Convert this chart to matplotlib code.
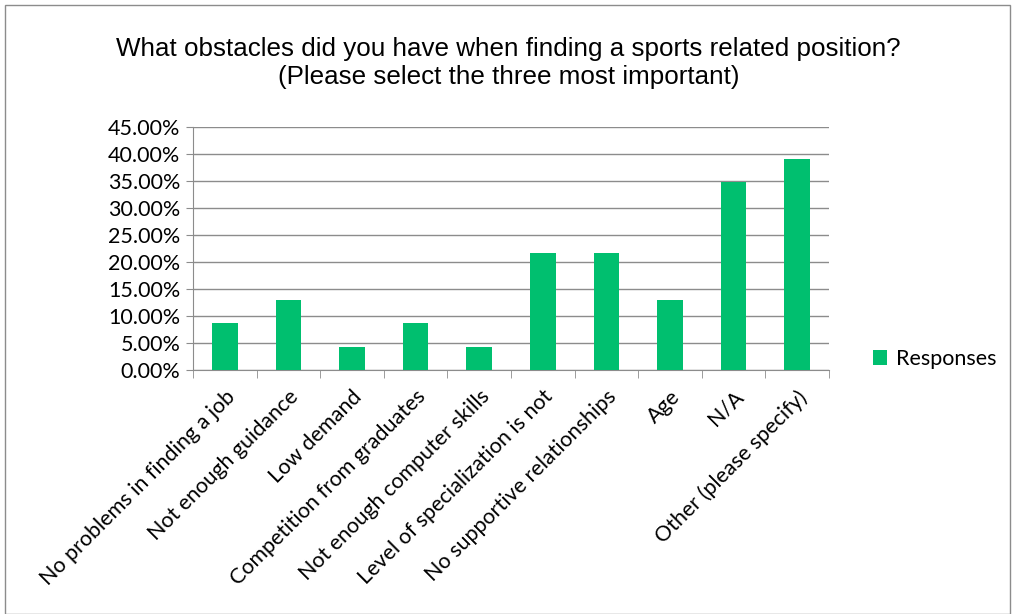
import matplotlib
matplotlib.use("Agg")
import matplotlib.pyplot as plt
from matplotlib.ticker import FixedLocator, FuncFormatter
from matplotlib.patches import Rectangle

categories = ["No problems in finding a job", "Not enough guidance", "Low demand",
              "Competition from graduates", "Not enough computer skills",
              "Level of specialization is not", "No supportive relationships",
              "Age", "N/A", "Other (please specify)"]
values = [8.70, 13.04, 4.35, 8.70, 4.35, 21.74, 21.74, 13.04, 34.78, 39.13]
series_name = "Responses"
yticks = [0, 5, 10, 15, 20, 25, 30, 35, 40, 45]
title = "What obstacles did you have when finding a sports related position?\n(Please select the three most important)"

green = "#00BF6F"
grid = "#8C8C8C"
lab_font = ["Lato", "DejaVu Sans"]
fs = 15.5

fig = plt.figure(figsize=(10.17, 6.14), dpi=100)
fig.patches.append(Rectangle((5/1017, 0), 1 - 12/1017, 1 - 5/614, transform=fig.transFigure,
                             fill=False, edgecolor="#8C8C8C", linewidth=1.0))
ax = fig.add_axes([193/1017, 1 - 370/614, (829-193)/1017, (370-127)/614])

x = list(range(len(categories)))
ax.bar(x, values, width=0.4, color=green, label=series_name, zorder=3)
ax.set_xlim(-0.5, len(categories) - 0.5)
ax.set_ylim(0, 45)
ax.set_yticks(yticks)
ax.yaxis.set_major_formatter(FuncFormatter(lambda v, p: f"{v:.2f}%"))
ax.yaxis.grid(True, color=grid, linewidth=1.0, zorder=0)
ax.set_axisbelow(True)

ax.set_xticks(x)
ax.set_xticklabels(categories, rotation=45, ha="right", rotation_mode="anchor",
                   fontsize=fs, family=lab_font)
ax.tick_params(axis="x", which="major", length=0, pad=12)
ax.xaxis.set_minor_locator(FixedLocator([i - 0.5 for i in range(len(categories) + 1)]))
ax.tick_params(axis="x", which="minor", length=6, color=grid, direction="out")
ax.tick_params(axis="y", length=5, color=grid, labelsize=fs, pad=4)
for t in ax.get_yticklabels():
    t.set_family(lab_font)

for s in ["top", "right"]:
    ax.spines[s].set_visible(False)
ax.spines["left"].set_color(grid)
ax.spines["bottom"].set_color(grid)

fig.text(0.5, 1 - 63/614, title, ha="center", va="center", fontsize=18.7,
         family=["Liberation Sans", "DejaVu Sans"], linespacing=1.25)

leg = fig.legend(loc="center left", bbox_to_anchor=(854/1017, 1 - 359/614), frameon=False,
                 prop={"family": lab_font, "size": fs}, handlelength=0.65, handleheight=0.65,
                 handletextpad=0.4)

fig.savefig("out.png", dpi=100)
